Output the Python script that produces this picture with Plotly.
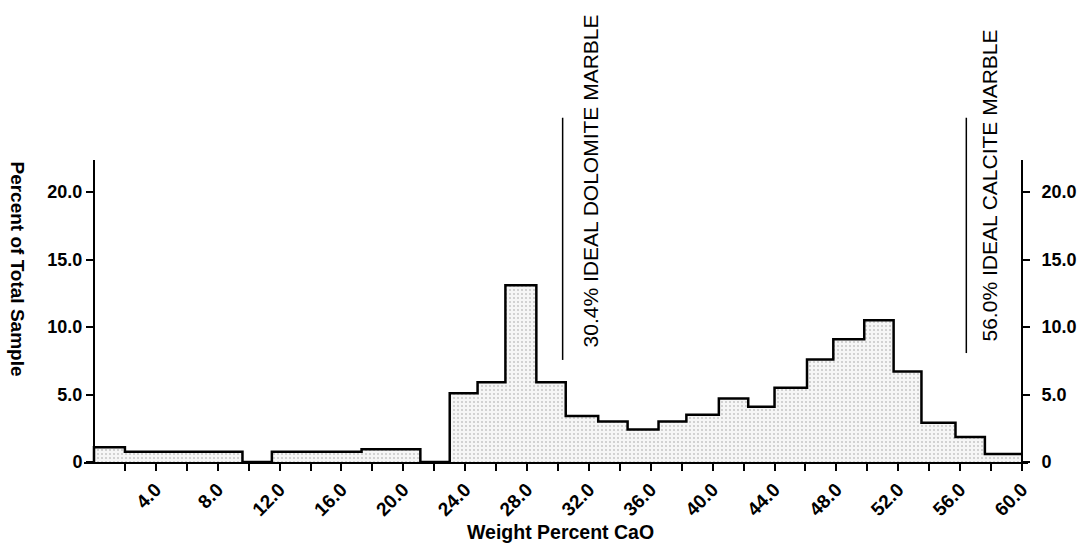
import plotly.graph_objects as go

# Histogram bins (weight percent CaO) and heights (percent of total sample)
bin_edges = [0.0, 2.0, 9.6, 11.5, 17.3, 21.1, 23.0, 24.8, 26.6, 28.6, 30.5, 32.6,
             34.5, 36.5, 38.3, 40.4, 42.3, 44.0, 46.1, 47.8, 49.8, 51.7, 53.5,
             55.7, 57.6, 60.0]
percent = [1.1, 0.75, 0.0, 0.75, 0.95, 0.0, 5.1, 5.9, 13.1, 5.9, 3.4, 3.0,
           2.4, 3.0, 3.5, 4.7, 4.1, 5.5, 7.6, 9.1, 10.5, 6.7, 2.9, 1.85, 0.6]

x_tickvals = [2, 4, 6, 8, 10, 12, 14, 16, 18, 20, 22, 24, 26, 28, 30, 32, 34, 36,
              38, 40, 42, 44, 46, 48, 50, 52, 54, 56, 58, 60]
x_ticktext = ["" if v % 4 else f"{v:.1f}" for v in x_tickvals]
y_tickvals = [0, 5, 10, 15, 20]
y_ticktext = ["0", "5.0", "10.0", "15.0", "20.0"]

# reference compositions: label, x position, line bottom, line top (y units)
ref_labels = ["30.4% IDEAL DOLOMITE MARBLE", "56.0% IDEAL CALCITE MARBLE"]
ref_x = [30.3, 56.4]
ref_y0 = [7.56, 8.07]
ref_y1 = [25.5, 25.5]
ref_text_x = [32.07, 57.93]
ref_text_y = [20.78, 20.48]

X_RANGE = [-0.646, 60.388]
Y_TOP = 22.37
FONT = "Liberation Sans, Arial, Helvetica, sans-serif"

step_x = [bin_edges[0]] + bin_edges
step_y = [0.0] + percent + [percent[-1]]

fig = go.Figure()
fig.add_trace(go.Scatter(
    x=step_x, y=step_y, mode="lines", line=dict(shape="hv", color="black", width=2.5),
    fill="tozeroy", fillcolor="rgba(0,0,0,0)",
    fillpattern=dict(shape=".", fgcolor="#9a9a9a", bgcolor="#f6f6f6", size=4, solidity=0.22),
    hoverinfo="skip", showlegend=False,
))
fig.add_trace(go.Scatter(x=[0, 0], y=[0, 0], yaxis="y2", mode="lines",
                         line=dict(width=0), hoverinfo="skip", showlegend=False))

for lab, xv, y0, y1, tx, ty in zip(ref_labels, ref_x, ref_y0, ref_y1, ref_text_x, ref_text_y):
    fig.add_shape(type="line", xref="x", yref="paper", x0=xv, x1=xv,
                  y0=y0 / Y_TOP, y1=y1 / Y_TOP, line=dict(color="black", width=1.5))
    fig.add_annotation(text=lab, x=tx, y=ty / Y_TOP, xref="x", yref="paper",
                       textangle=-90, showarrow=False, xanchor="center", yanchor="middle",
                       font=dict(size=21, color="black", family=FONT))

fig.add_annotation(text="Percent of Total Sample", xref="paper", yref="paper",
                   x=-0.0704, y=0.639, textangle=90, showarrow=False,
                   xanchor="center", yanchor="middle",
                   font=dict(size=19, color="black", family=FONT, weight="bold"))
fig.add_annotation(text="Weight Percent CaO", xref="paper", yref="paper",
                   x=0.5048, y=-0.2318, showarrow=False, xanchor="center", yanchor="middle",
                   font=dict(size=19.5, color="black", family=FONT, weight="bold"))

yax_common = dict(range=[0, Y_TOP], tickvals=y_tickvals, ticktext=y_ticktext,
                  showline=True, linecolor="black", linewidth=2, ticks="outside",
                  ticklen=7, tickwidth=1.5, tickcolor="black", showgrid=False,
                  zeroline=False,
                  tickfont=dict(size=18, color="black", family=FONT, weight="bold"),
                  anchor="free", fixedrange=True)

fig.update_layout(
    width=1088, height=546, margin=dict(l=84, r=60, t=160, b=84),
    paper_bgcolor="white", plot_bgcolor="white",
    xaxis=dict(range=X_RANGE, tickvals=x_tickvals, ticktext=x_ticktext, tickangle=-45,
               showline=True, linecolor="black", linewidth=2, ticks="outside",
               ticklen=7, tickwidth=1.5, tickcolor="black", showgrid=False, zeroline=False,
               tickfont=dict(size=19, color="black", family=FONT, weight="bold")),
    yaxis=dict(side="left", position=(0 - X_RANGE[0]) / (X_RANGE[1] - X_RANGE[0]), **yax_common),
    yaxis2=dict(side="right", overlaying="y", ticklabelstandoff=8,
                position=(60 - X_RANGE[0]) / (X_RANGE[1] - X_RANGE[0]), **yax_common),
)

fig.write_html("out.html")
